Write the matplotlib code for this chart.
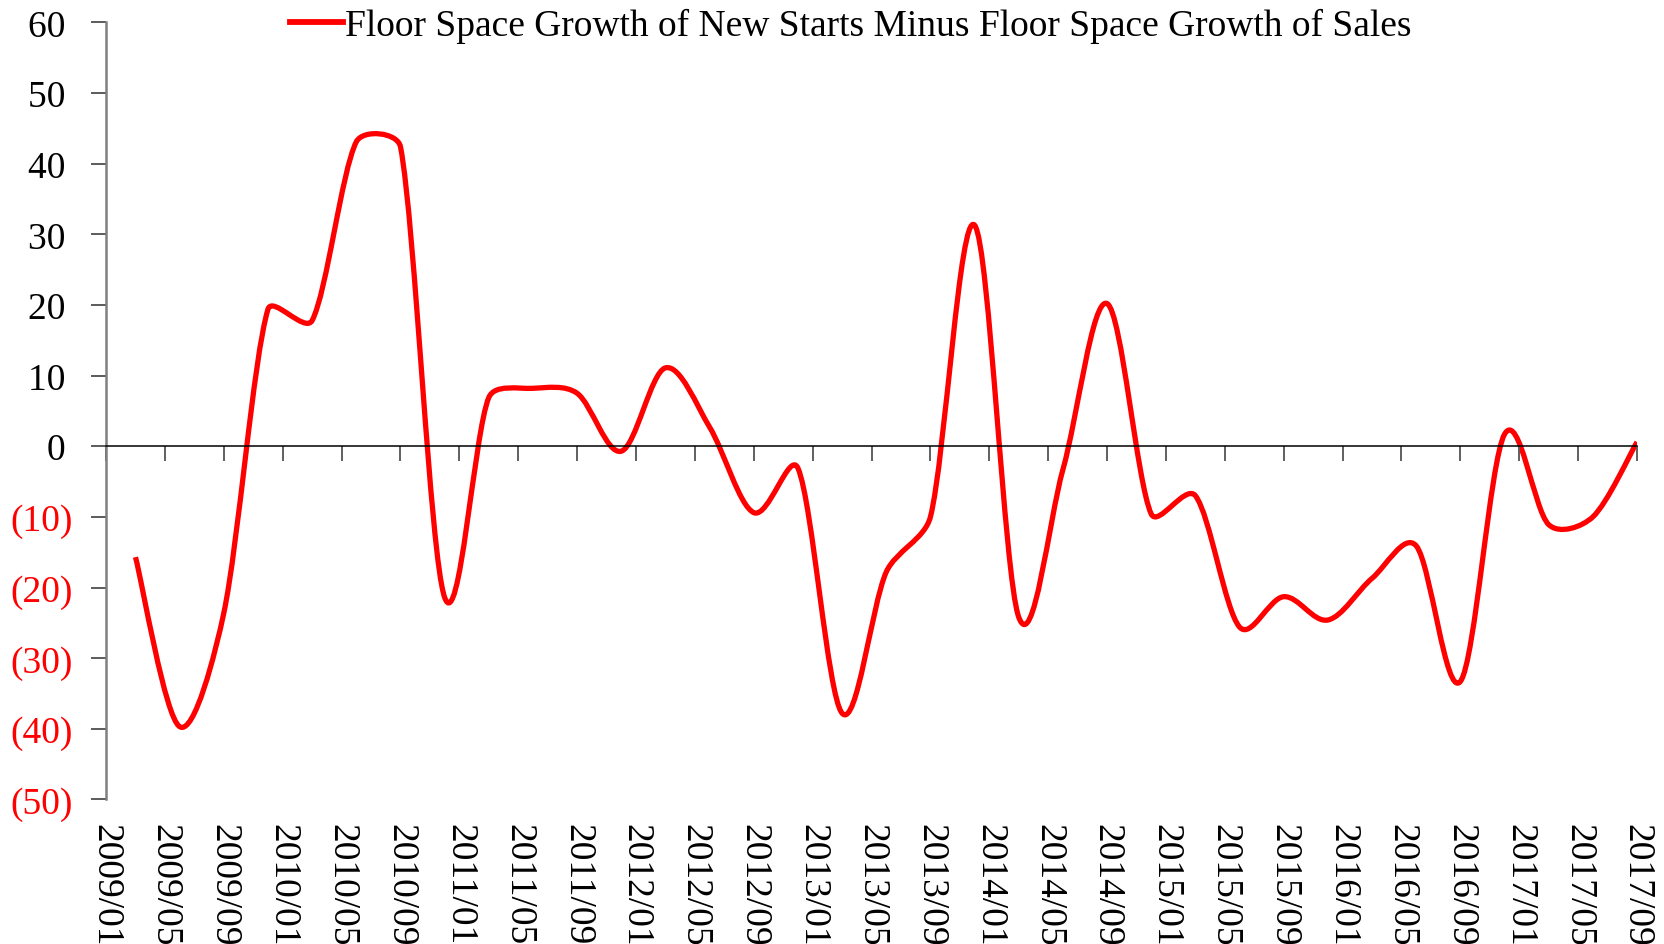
import numpy as np
import matplotlib
matplotlib.use("Agg")
import matplotlib.pyplot as plt
from matplotlib.path import Path
from matplotlib.patches import PathPatch
from matplotlib.lines import Line2D

plt.rcParams['font.family'] = ['Liberation Serif', 'DejaVu Serif']

# quarterly readings (Mar/Jun/Sep/Dec), YoY growth gap in ppt
start_month = "2009/03"
step_months = 3
gap_2009 = [-15.7, -39.7, -23.6, 19.4]
gap_2010 = [17.8, 43.1, 42.4, -21.4]
gap_2011 = [6.9, 8.2, 7.5, -0.7]
gap_2012 = [11.1, 2.7, -9.4, -3.1]
gap_2013 = [-37.8, -17.8, -10.0, 31.3]
gap_2014 = [-24.2, -3.3, 20.2, -9.6]
gap_2015 = [-7.0, -25.6, -21.3, -24.6]
gap_2016 = [-18.7, -14.1, -33.3, 1.7]
gap_2017 = [-11.1, -10.0, 0.6]

gap = (gap_2009 + gap_2010 + gap_2011 + gap_2012 + gap_2013
       + gap_2014 + gap_2015 + gap_2016 + gap_2017)

series_name = "Floor Space Growth of New Starts Minus Floor Space Growth of Sales"
red = "#ff0000"


def month_index(label):
    y, m = label.split("/")
    return (int(y) - 2009) * 12 + int(m) - 1


def smooth_path(ax, x, y):
    # excel-like smoothed line: catmull-rom beziers, with each control arm
    # kept within a third of its segment (measured on screen)
    data = np.column_stack([x, y]).astype(float)
    pix = ax.transData.transform(data)
    n = len(data)
    verts = [data[0]]
    codes = [Path.MOVETO]
    for i in range(n - 1):
        p0, p1 = pix[max(i - 1, 0)], pix[i]
        p2, p3 = pix[i + 1], pix[min(i + 2, n - 1)]
        lim = np.hypot(*(p2 - p1)) / 3.
        a1 = (p2 - p0) / 6.
        a2 = (p3 - p1) / 6.
        for a in (a1, a2):
            la = np.hypot(*a)
            if la > lim:
                a *= lim / la
        cc = ax.transData.inverted().transform(np.array([p1 + a1, p2 - a2]))
        verts += [cc[0], cc[1], data[i + 1]]
        codes += [Path.CURVE4] * 3
    return Path(verts, codes)


x = month_index(start_month) + step_months * np.arange(len(gap))
y = np.array(gap)

fig = plt.figure(figsize=(16.65, 9.45), dpi=100)
ax = fig.add_axes([0.0637, 0.153, 0.9195, 0.8222])

ax.set_xlim(0, 104)
ax.set_ylim(-50, 60)

ax.add_patch(PathPatch(smooth_path(ax, x, y), fill=False, edgecolor=red, lw=3.8,
                       capstyle="butt", joinstyle="round"))

# y axis
yticks = np.arange(-50, 61, 10)
ax.set_yticks(yticks)
ax.set_yticklabels(["(%d)" % abs(v) if v < 0 else "%d\u2009" % v for v in yticks])
for lab, v in zip(ax.get_yticklabels(), yticks):
    lab.set_color(red if v < 0 else "black")
ax.tick_params(axis="y", direction="out", length=11, width=1.2, pad=13,
               labelsize=27, color="#404040")

# x axis: line and ticks on zero, labels at the bottom
tick_pos = np.arange(0, 105, 4)
tick_lab = ["%d/%02d" % (2009 + p // 12, p % 12 + 1) for p in tick_pos]
ax.spines["bottom"].set_position(("data", 0))
ax.spines["bottom"].set_color("black")
ax.spines["bottom"].set_linewidth(1.1)
ax.set_xticks(tick_pos)
ax.set_xticklabels([])
ax.tick_params(axis="x", direction="out", length=11, width=1.4, color="#606060")

sec = ax.secondary_xaxis("bottom")
sec.set_xticks(tick_pos)
sec.set_xticklabels(tick_lab, rotation=270, ha="center", va="top")
sec.tick_params(axis="x", length=0, pad=17, labelsize=27)
sec.spines["bottom"].set_visible(False)

ax.spines["left"].set_color("#808080")
ax.spines["left"].set_linewidth(1.8)
ax.spines["top"].set_visible(False)
ax.spines["right"].set_visible(False)

handle = Line2D([], [], color=red, lw=4.2)
fig.legend([handle], [series_name], loc="center", bbox_to_anchor=(0.511, 0.972),
           bbox_transform=fig.transFigure, frameon=False, fontsize=27,
           handlelength=1.4, handletextpad=0.05, borderaxespad=0)

fig.savefig("out.png", dpi=100)
